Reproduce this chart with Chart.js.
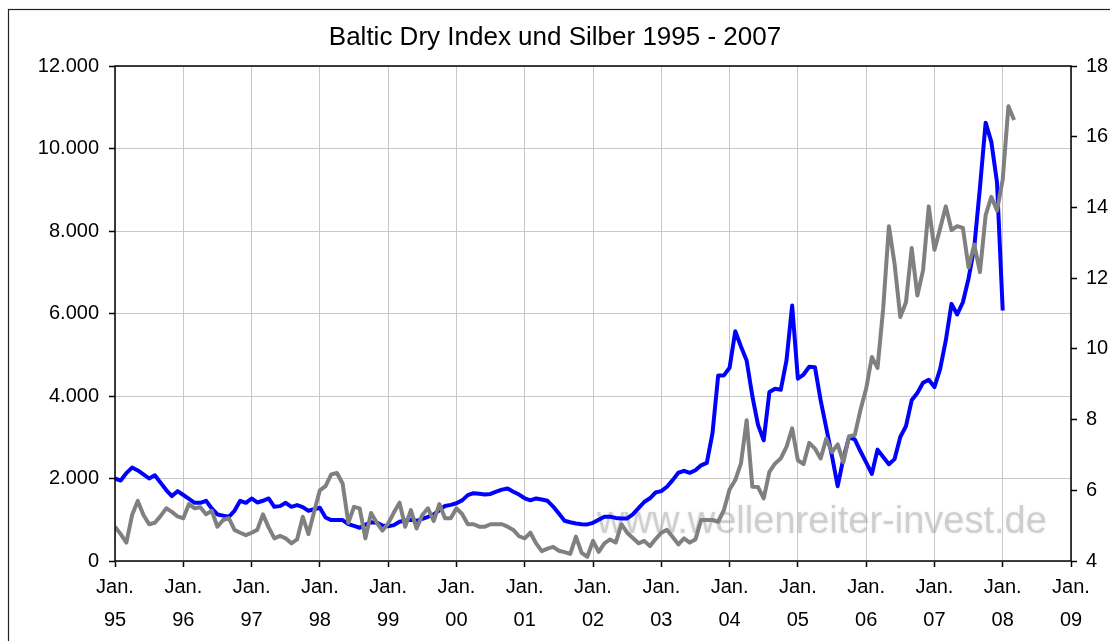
<!DOCTYPE html>
<html>
<head>
<meta charset="utf-8">
<script src="https://cdn.jsdelivr.net/npm/chart.js@4"></script>
<style>
  html, body { margin: 0; padding: 0; background: #fff; }
  canvas { display: block; }
</style>
</head>
<body>
<canvas id="chart" width="1110" height="641"></canvas>
<script>
// monthly values, index 0 = Jan. 95
const bdi = [
  2000, 1950, 2130, 2265, 2195, 2100, 2000, 2080, 1900, 1720,
  1575, 1693, 1600, 1505, 1410, 1410, 1459, 1274, 1129, 1100,
  1072, 1217, 1459, 1410, 1516, 1419, 1460, 1516, 1314, 1330,
  1410, 1314, 1355, 1308, 1217, 1255, 1290, 1056, 992, 992,
  992, 895, 850, 806, 880, 940, 930, 860, 840, 870,
  951, 985, 1000, 975, 1020, 1072, 1130, 1230, 1335, 1360,
  1400, 1470, 1597, 1645, 1630, 1613, 1625, 1680, 1730, 1758,
  1680, 1610, 1520, 1470, 1516, 1490, 1459, 1320, 1150, 975,
  940, 910, 893, 887, 925, 1000, 1072, 1072, 1045, 1032,
  1032, 1130, 1280, 1430, 1520, 1661, 1693, 1800, 1960, 2140,
  2185, 2137, 2201, 2320, 2380, 3100, 4500, 4500, 4685, 5571,
  5200, 4862, 4000, 3300, 2927, 4096, 4177, 4150, 4862, 6193,
  4419, 4520, 4710, 4700, 3900, 3220, 2540, 1814, 2490, 3000,
  2950, 2660, 2390, 2110, 2700, 2523, 2346, 2470, 3007, 3270,
  3895, 4072, 4320, 4395, 4217, 4650, 5346, 6233, 5975, 6273,
  6850, 7603, 9055, 10627, 10160, 9175, 6072
];

const silber = [
  4.97, 4.76, 4.52, 5.30, 5.70, 5.30, 5.04, 5.08, 5.27, 5.49,
  5.39, 5.26, 5.21, 5.61, 5.49, 5.52, 5.32, 5.42, 4.97, 5.16,
  5.21, 4.88, 4.80, 4.73, 4.80, 4.88, 5.32, 4.95, 4.64, 4.71,
  4.64, 4.50, 4.61, 5.25, 4.76, 5.40, 6.00, 6.12, 6.45, 6.49,
  6.19, 5.08, 5.53, 5.49, 4.64, 5.36, 5.08, 4.86, 5.06, 5.37,
  5.65, 4.97, 5.44, 4.92, 5.30, 5.49, 5.13, 5.61, 5.21, 5.21,
  5.49, 5.33, 5.04, 5.04, 4.97, 4.97, 5.04, 5.04, 5.04, 4.97,
  4.88, 4.70, 4.64, 4.80, 4.50, 4.28, 4.35, 4.40, 4.29, 4.25,
  4.20, 4.69, 4.23, 4.12, 4.57, 4.26, 4.50, 4.61, 4.52, 5.04,
  4.80, 4.65, 4.50, 4.57, 4.42, 4.62, 4.80, 4.88, 4.68, 4.47,
  4.64, 4.52, 4.61, 5.16, 5.16, 5.16, 5.11, 5.44, 6.02, 6.29,
  6.76, 7.98, 6.10, 6.09, 5.77, 6.52, 6.76, 6.90, 7.23, 7.75,
  6.85, 6.74, 7.34, 7.18, 6.90, 7.46, 7.08, 7.30, 6.79, 7.53,
  7.56, 8.27, 8.87, 9.77, 9.46, 11.15, 13.47, 12.40, 10.90, 11.32,
  12.85, 11.51, 12.22, 14.03, 12.80, 13.40, 14.03, 13.36, 13.47, 13.42,
  12.30, 12.95, 12.17, 13.78, 14.30, 13.91, 14.79, 16.86, 16.47
];

const startYear = 95;
const yearCount = 14;
const leftTicks = [0, 2000, 4000, 6000, 8000, 10000, 12000];
const rightTicks = [4, 6, 8, 10, 12, 14, 16, 18];

const FONT = '"Liberation Sans", Arial, sans-serif';

function toPoints(arr) {
  return arr.map((v, i) => ({ x: i, y: v }));
}

function tausender(v) {
  return String(v).replace(/\B(?=(\d{3})+(?!\d))/g, '.');
}

const framePlugin = {
  id: 'frame',
  beforeDatasetsDraw(chart) {
    const ctx = chart.ctx;
    ctx.save();
    ctx.font = '38px ' + FONT;
    ctx.fillStyle = 'rgba(150,150,150,0.38)';
    ctx.shadowColor = 'rgba(150,150,150,0.5)';
    ctx.shadowBlur = 3;
    ctx.textBaseline = 'alphabetic';
    ctx.fillText('www.wellenreiter-invest.de', 597, 533);
    ctx.restore();
  },
  afterDraw(chart) {
    const ctx = chart.ctx;
    const a = chart.chartArea;
    ctx.save();
    ctx.strokeStyle = '#000';
    ctx.lineWidth = 1.5;
    ctx.strokeRect(a.left, a.top, a.right - a.left, a.bottom - a.top);
    ctx.lineWidth = 1.2;
    ctx.strokeStyle = '#222';
    ctx.strokeRect(8.5, 9.5, 1120, 700);
    ctx.restore();
  }
};

new Chart(document.getElementById('chart').getContext('2d'), {
  type: 'line',
  data: {
    datasets: [{
      label: 'Baltic Dry Index',
      data: toPoints(bdi),
      yAxisID: 'y',
      borderColor: '#0000ff',
      borderWidth: 4,
      pointRadius: 0,
      tension: 0,
      borderJoinStyle: 'round',
      order: 1
    }, {
      label: 'Silber',
      data: toPoints(silber),
      yAxisID: 'y1',
      borderColor: '#808080',
      borderWidth: 4,
      pointRadius: 0,
      tension: 0,
      borderJoinStyle: 'round',
      order: 0
    }]
  },
  options: {
    responsive: false,
    animation: false,
    devicePixelRatio: 1,
    layout: { padding: 0 },
    plugins: {
      legend: { display: false },
      tooltip: { enabled: false },
      title: {
        display: true,
        text: 'Baltic Dry Index und Silber 1995 - 2007',
        color: '#000',
        font: { family: FONT, size: 26, weight: 'normal', lineHeight: 1.2 },
        padding: { top: 22, bottom: 12.8 }
      }
    },
    scales: {
      x: {
        type: 'linear',
        min: 0,
        max: yearCount * 12,
        afterFit(scale) { scale.height = 80; },
        afterBuildTicks(scale) {
          scale.ticks = Array.from({ length: yearCount + 1 }, (_, k) => ({ value: k * 12 }));
        },
        border: { display: false },
        grid: { color: '#c8c8c8', lineWidth: 1, tickColor: '#000', tickLength: 6, tickWidth: 1.5 },
        ticks: {
          autoSkip: false,
          maxRotation: 0,
          padding: 4,
          color: '#000',
          font: { family: FONT, size: 20, lineHeight: 1.65 },
          callback(value) {
            const yy = (startYear + value / 12) % 100;
            return ['Jan.', String(yy).padStart(2, '0')];
          }
        }
      },
      y: {
        position: 'left',
        min: 0,
        max: 12000,
        afterFit(scale) { scale.width = 115; },
        afterBuildTicks(scale) { scale.ticks = leftTicks.map(v => ({ value: v })); },
        border: { display: false },
        grid: { color: '#c8c8c8', lineWidth: 1, tickColor: '#000', tickLength: 6, tickWidth: 1.5 },
        ticks: {
          padding: 10,
          color: '#000',
          font: { family: FONT, size: 20 },
          callback: v => tausender(v)
        }
      },
      y1: {
        position: 'right',
        min: 4,
        max: 18,
        afterFit(scale) { scale.width = 39; },
        afterBuildTicks(scale) { scale.ticks = rightTicks.map(v => ({ value: v })); },
        border: { display: false },
        grid: { drawOnChartArea: false, tickColor: '#000', tickLength: 6, tickWidth: 1.5 },
        ticks: {
          padding: 9,
          color: '#000',
          font: { family: FONT, size: 20 }
        }
      }
    }
  },
  plugins: [framePlugin]
});
</script>
</body>
</html>
